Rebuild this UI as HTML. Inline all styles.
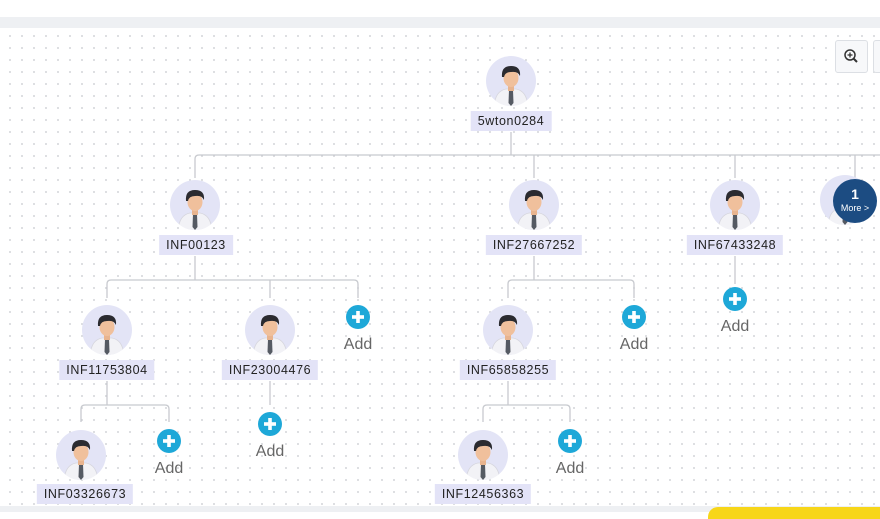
<!DOCTYPE html>
<html><head><meta charset="utf-8"><style>
html,body{margin:0;padding:0;width:880px;height:512px;overflow:hidden;background:#fff;font-family:"Liberation Sans",sans-serif;}
#top{position:absolute;left:0;top:0;width:880px;height:17px;background:#fff;}
#band{position:absolute;left:0;top:17px;width:880px;height:11px;background:#eef0f3;}
#canvas{position:absolute;left:0;top:28px;width:880px;height:478px;background-color:#fff;
background-image:radial-gradient(circle,#d4d6da 0.8px,transparent 1.1px);background-size:12px 12px;background-position:4px 2px;}
#bot{position:absolute;left:0;top:506px;width:880px;height:6px;background:#eef0f3;}
#yel{position:absolute;left:708px;top:507px;width:180px;height:12px;background:#f7d619;border-radius:10px 0 0 0;}
.lbl{position:absolute;height:20px;line-height:20px;background:#e3e3f7;color:#222;font-size:12.5px;letter-spacing:0.6px;text-align:center;transform:translateX(-50%);padding:0 7px;white-space:nowrap;}
.add{position:absolute;font-size:16px;color:#666;transform:translateX(-50%);}
#zoomb{position:absolute;left:835px;top:40px;width:33px;height:33px;border:1px solid #dcdfe4;border-radius:3px;background:#f7f8fa;box-sizing:border-box;}
#zoomb2{position:absolute;left:873px;top:40px;width:20px;height:33px;border:1px solid #dcdfe4;border-radius:3px;background:#f7f8fa;box-sizing:border-box;}
</style></head><body>
<div id="top"></div><div id="band"></div><div id="canvas"></div><div id="bot"></div><div id="yel"></div>
<div id="zoomb"><svg width="31" height="31"><circle cx="14" cy="14" r="5" fill="none" stroke="#333" stroke-width="1.5"/><line x1="17.5" y1="17.5" x2="21" y2="21" stroke="#333" stroke-width="2"/><line x1="11.5" y1="14" x2="16.5" y2="14" stroke="#333" stroke-width="1.3"/><line x1="14" y1="11.5" x2="14" y2="16.5" stroke="#333" stroke-width="1.3"/></svg></div>
<div id="zoomb2"></div>
<svg width="880" height="512" style="position:absolute;left:0;top:0">
<defs>
<g id="av">
<circle r="25" fill="#e3e4f6"/>
<clipPath id="cc"><circle r="25"/></clipPath>
<g clip-path="url(#cc)">
<path d="M-17 26 Q-16 10 -5 8 L5 8 Q16 10 17 26 Z" fill="#f2f2f6" stroke="#d6d6de" stroke-width="0.8"/>
<path d="M-2 9 L2 9 L2.5 22 L0 25 L-2.5 22 Z" fill="#555a63"/>
<rect x="-3" y="3" width="6" height="7" fill="#e8b48f"/>
<ellipse cx="0" cy="-3" rx="7.5" ry="9" fill="#f0c09c"/>
<path d="M-9 -4 Q-10 -15 0 -15 Q10 -15 9 -5 Q7 -10 0 -9 Q-6 -9 -7 -4 Z" fill="#2b2b30"/>
</g>
</g>
<g id="plus"><circle r="12" fill="#1ea8d8"/><rect x="-6" y="-1.8" width="12" height="3.6" fill="#fff"/><rect x="-1.8" y="-6" width="3.6" height="12" fill="#fff"/></g>
</defs>
<g stroke="#c8cacf" stroke-width="1.3" fill="none">
<path d="M511 132V155M195 178V159Q195 155 199 155H880M534 155V178M735 155V178M855 155V178"/>
<path d="M195 256V280M107 298V284Q107 280 111 280H354Q358 280 358 284V298M270 280V298"/>
<path d="M534 256V280M508 298V284Q508 280 512 280H630Q634 280 634 284V298"/>
<path d="M735 256V284"/>
<path d="M107 381V405M81 422V409Q81 405 85 405H165Q169 405 169 409V422"/>
<path d="M270 381V405"/>
<path d="M508 381V405M483 422V409Q483 405 487 405H566Q570 405 570 409V422"/>
</g>
<use href="#av" x="511" y="81"/>
<use href="#av" x="195" y="205"/>
<use href="#av" x="534" y="205"/>
<use href="#av" x="735" y="205"/>
<use href="#av" x="845" y="200"/>
<use href="#av" x="107" y="330"/>
<use href="#av" x="270" y="330"/>
<use href="#av" x="508" y="330"/>
<use href="#av" x="81" y="455"/>
<use href="#av" x="483" y="455"/>
<use href="#plus" x="358" y="317"/>
<use href="#plus" x="634" y="317"/>
<use href="#plus" x="735" y="299"/>
<use href="#plus" x="169" y="441"/>
<use href="#plus" x="270" y="424"/>
<use href="#plus" x="570" y="441"/>
<circle cx="855" cy="201" r="22" fill="#1c4c82"/>
<text x="855" y="199" fill="#fff" font-size="14" font-weight="bold" text-anchor="middle" font-family="Liberation Sans">1</text>
<text x="855" y="211" fill="#fff" font-size="9" text-anchor="middle" font-family="Liberation Sans">More &gt;</text>
</svg>
<div class="lbl" style="left:511px;top:111px">5wton0284</div>
<div class="lbl" style="left:196px;top:235px">INF00123</div>
<div class="lbl" style="left:534px;top:235px">INF27667252</div>
<div class="lbl" style="left:735px;top:235px">INF67433248</div>
<div class="lbl" style="left:107px;top:360px">INF11753804</div>
<div class="lbl" style="left:270px;top:360px">INF23004476</div>
<div class="lbl" style="left:508px;top:360px">INF65858255</div>
<div class="lbl" style="left:85px;top:484px">INF03326673</div>
<div class="lbl" style="left:483px;top:484px">INF12456363</div>
<div class="add" style="left:358px;top:336px">Add</div>
<div class="add" style="left:634px;top:336px">Add</div>
<div class="add" style="left:735px;top:318px">Add</div>
<div class="add" style="left:169px;top:460px">Add</div>
<div class="add" style="left:270px;top:443px">Add</div>
<div class="add" style="left:570px;top:460px">Add</div>
</body></html>
